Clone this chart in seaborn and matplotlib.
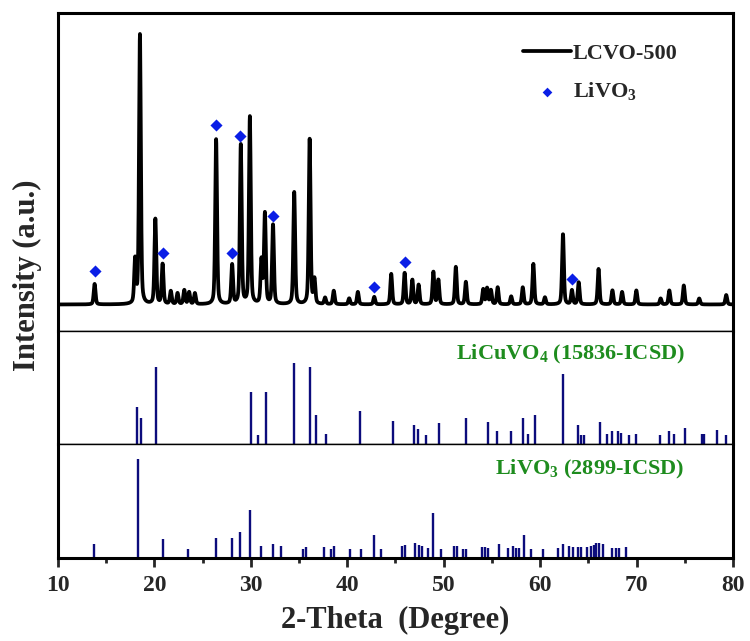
import numpy as np
import pandas as pd
import matplotlib
matplotlib.use("Agg")
import matplotlib.pyplot as plt
import seaborn as sns

# Measured pattern: peak positions (2-theta) and heights above background (counts)
peak_pos = [13.8, 18.0, 18.5, 20.1, 20.85, 21.7, 22.4, 23.1, 23.6, 24.2,
            26.4, 28.06, 28.96, 29.9, 31.1, 31.46, 32.3, 34.5, 36.1, 36.6,
            37.7, 38.6, 40.2, 41.1, 42.8, 44.56, 45.95, 46.75, 47.4, 48.93,
            49.45, 51.26, 52.3, 54.1, 54.5, 54.9, 55.6, 57.0, 58.2, 59.3,
            60.5, 62.37, 63.3, 64.0, 66.06, 67.5, 68.5, 69.98, 72.5, 73.4,
            74.9, 76.5, 79.3]
peak_height = [205, 430, 2695, 850, 400, 130, 110, 140, 120, 110,
               1650, 390, 1590, 1870, 430, 900, 790, 1120, 1650, 240,
               65, 135, 60, 125, 75, 305, 315, 245, 195, 325,
               245, 375, 225, 150, 160, 140, 170, 80, 170, 405,
               70, 705, 140, 220, 355, 140, 125, 140, 60, 140,
               190, 60, 95]
background = 265

# LiVO3 markers on the measured pattern
marker_pos = [13.8, 20.9, 26.37, 28.06, 28.9, 32.33, 42.8, 45.97, 63.33]
marker_int = [600, 780, 2060, 780, 1950, 1150, 440, 690, 520]

# LiCuVO4 (15836-ICSD) reference lines
cu_pos = [18.18, 18.56, 20.16, 30.0, 30.73, 31.56, 34.48, 36.18, 36.8, 37.77,
          41.27, 44.70, 46.93, 47.34, 48.17, 49.52, 52.36, 54.62, 55.49, 56.98,
          58.19, 58.75, 59.43, 62.35, 63.91, 64.19, 64.6, 66.17, 66.93, 67.49,
          68.11, 68.42, 69.2, 69.98, 72.47, 73.37, 73.86, 75.04, 76.8, 77.0,
          78.36, 79.24]
cu_int = [46, 32, 95, 64, 11, 64, 100, 95, 36, 12,
          41, 28, 23, 19, 11, 26, 32, 27, 16, 16,
          32, 12, 36, 86, 23, 11, 11, 27, 12, 16,
          16, 14, 11, 12, 11, 16, 12, 20, 12, 12,
          17, 11]

# LiVO3 (2899-ICSD) reference lines
v_pos = [13.74, 18.35, 20.85, 23.49, 26.4, 28.03, 28.86, 29.9, 31.01, 32.29,
         33.09, 35.41, 35.69, 37.6, 38.36, 38.64, 40.24, 41.41, 42.8, 43.5,
         45.7, 45.95, 47.03, 47.45, 47.73, 48.42, 48.85, 49.7, 51.12, 51.43,
         52.02, 52.36, 53.96, 54.3, 54.62, 55.69, 56.7, 57.15, 57.5, 57.77,
         58.32, 59.05, 60.34, 61.82, 62.35, 62.98, 63.46, 63.95, 64.27, 64.89,
         65.23, 65.55, 65.83, 66.1, 66.52, 67.49, 67.9, 68.18, 68.95]
v_int = [14, 100, 19, 9, 20, 20, 26, 49, 12, 14,
         12, 9, 11, 11, 9, 12, 9, 9, 23, 9,
         12, 13, 15, 13, 12, 10, 45, 9, 12, 12,
         9, 9, 11, 11, 10, 14, 10, 12, 10, 10,
         23, 9, 9, 10, 14, 12, 11, 11, 11, 11,
         12, 13, 15, 15, 14, 10, 10, 10, 11]

sns.set_style("white")
plt.rcParams["font.family"] = ["Liberation Serif", "DejaVu Serif"]
plt.rcParams["font.weight"] = "bold"
plt.rcParams["mathtext.fontset"] = "custom"
plt.rcParams["mathtext.rm"] = "Liberation Serif:bold"
plt.rcParams["mathtext.bf"] = "Liberation Serif:bold"
plt.rcParams["mathtext.it"] = "Liberation Serif:bold"
plt.rcParams["mathtext.default"] = "rm"

# build the measured profile from the peak list (pseudo-Voigt peaks)
two_theta = np.arange(10, 80.001, 0.02)
fwhm = 0.22
sig = fwhm / 2.3548
gam = fwhm / 2
profile = np.full_like(two_theta, background, dtype=float)
for p, h in zip(peak_pos, peak_height):
    g = np.exp(-0.5 * ((two_theta - p) / sig) ** 2)
    lor = 1.0 / (1.0 + ((two_theta - p) / gam) ** 2)
    profile += h * (0.6 * g + 0.4 * lor)
df = pd.DataFrame({"two_theta": two_theta, "intensity": profile})
mk = pd.DataFrame({"two_theta": marker_pos, "intensity": marker_int})

fig = plt.figure(figsize=(7.5, 6.41), dpi=100)
gs = fig.add_gridspec(3, 1, height_ratios=[318, 113, 114], hspace=0,
                      left=0.0773, right=0.9773, top=0.9797, bottom=0.1295)
ax1 = fig.add_subplot(gs[0])
ax2 = fig.add_subplot(gs[1], sharex=ax1)
ax3 = fig.add_subplot(gs[2], sharex=ax1)

sns.lineplot(data=df, x="two_theta", y="intensity", ax=ax1, color="black",
             lw=2.7, label="LCVO-500")
sns.scatterplot(data=mk, x="two_theta", y="intensity", ax=ax1, marker="D",
                s=38, color="#0a1ee6", edgecolor="#0a1ee6", linewidth=0,
                label="LiVO$_3$", zorder=5)
ax1.set_ylim(0, 3180)
leg = ax1.legend(loc="upper left", bbox_to_anchor=(0.689, 0.905), frameon=False,
                 fontsize=16, handlelength=2.15, handletextpad=0.1,
                 labelspacing=0.75, borderpad=0, borderaxespad=0, markerscale=0.8)

ax2.vlines(cu_pos, 0, cu_int, color="#0c0c7c", lw=1.7)
ax2.set_ylim(0, 139.5)
ax2.text(75, 110, "LiCuVO$_4$ (15836-ICSD)", color="#1e8c1e", fontsize=16,
         ha="right", va="center")

ax3.vlines(v_pos, 0, v_int, color="#0c0c7c", lw=1.7)
ax3.set_ylim(0, 115.3)
ax3.text(75, 90, "LiVO$_3$ (2899-ICSD)", color="#1e8c1e", fontsize=16,
         ha="right", va="center")

ax1.set_xlim(10, 80)
for ax in (ax1, ax2, ax3):
    ax.set_yticks([])
    ax.set_ylabel("")
    ax.set_xlabel("")
    for s in ax.spines.values():
        s.set_linewidth(2.2)
        s.set_color("black")
ax1.spines["bottom"].set_linewidth(1.0)
ax2.spines["top"].set_linewidth(1.0)
ax2.spines["bottom"].set_linewidth(1.0)
ax3.spines["top"].set_linewidth(1.0)

ax1.tick_params(axis="x", bottom=False, labelbottom=False)
ax2.tick_params(axis="x", bottom=False, labelbottom=False)
ax3.set_xticks(range(10, 81, 10))
ax3.set_xticks(range(15, 80, 10), minor=True)
ax3.tick_params(axis="x", which="major", direction="out", length=6.5, width=2,
                labelsize=17, pad=6, bottom=True)
ax3.tick_params(axis="x", which="minor", direction="out", length=3.5, width=2,
                bottom=True)
ax3.set_xlabel("2-Theta  (Degree)", fontsize=22, fontweight="bold", labelpad=7)

fig.text(0.036, 0.571, "Intensity (a.u.)", rotation=90, fontsize=22,
         fontweight="bold", ha="center", va="center")

fig.savefig("out.png", dpi=100)
